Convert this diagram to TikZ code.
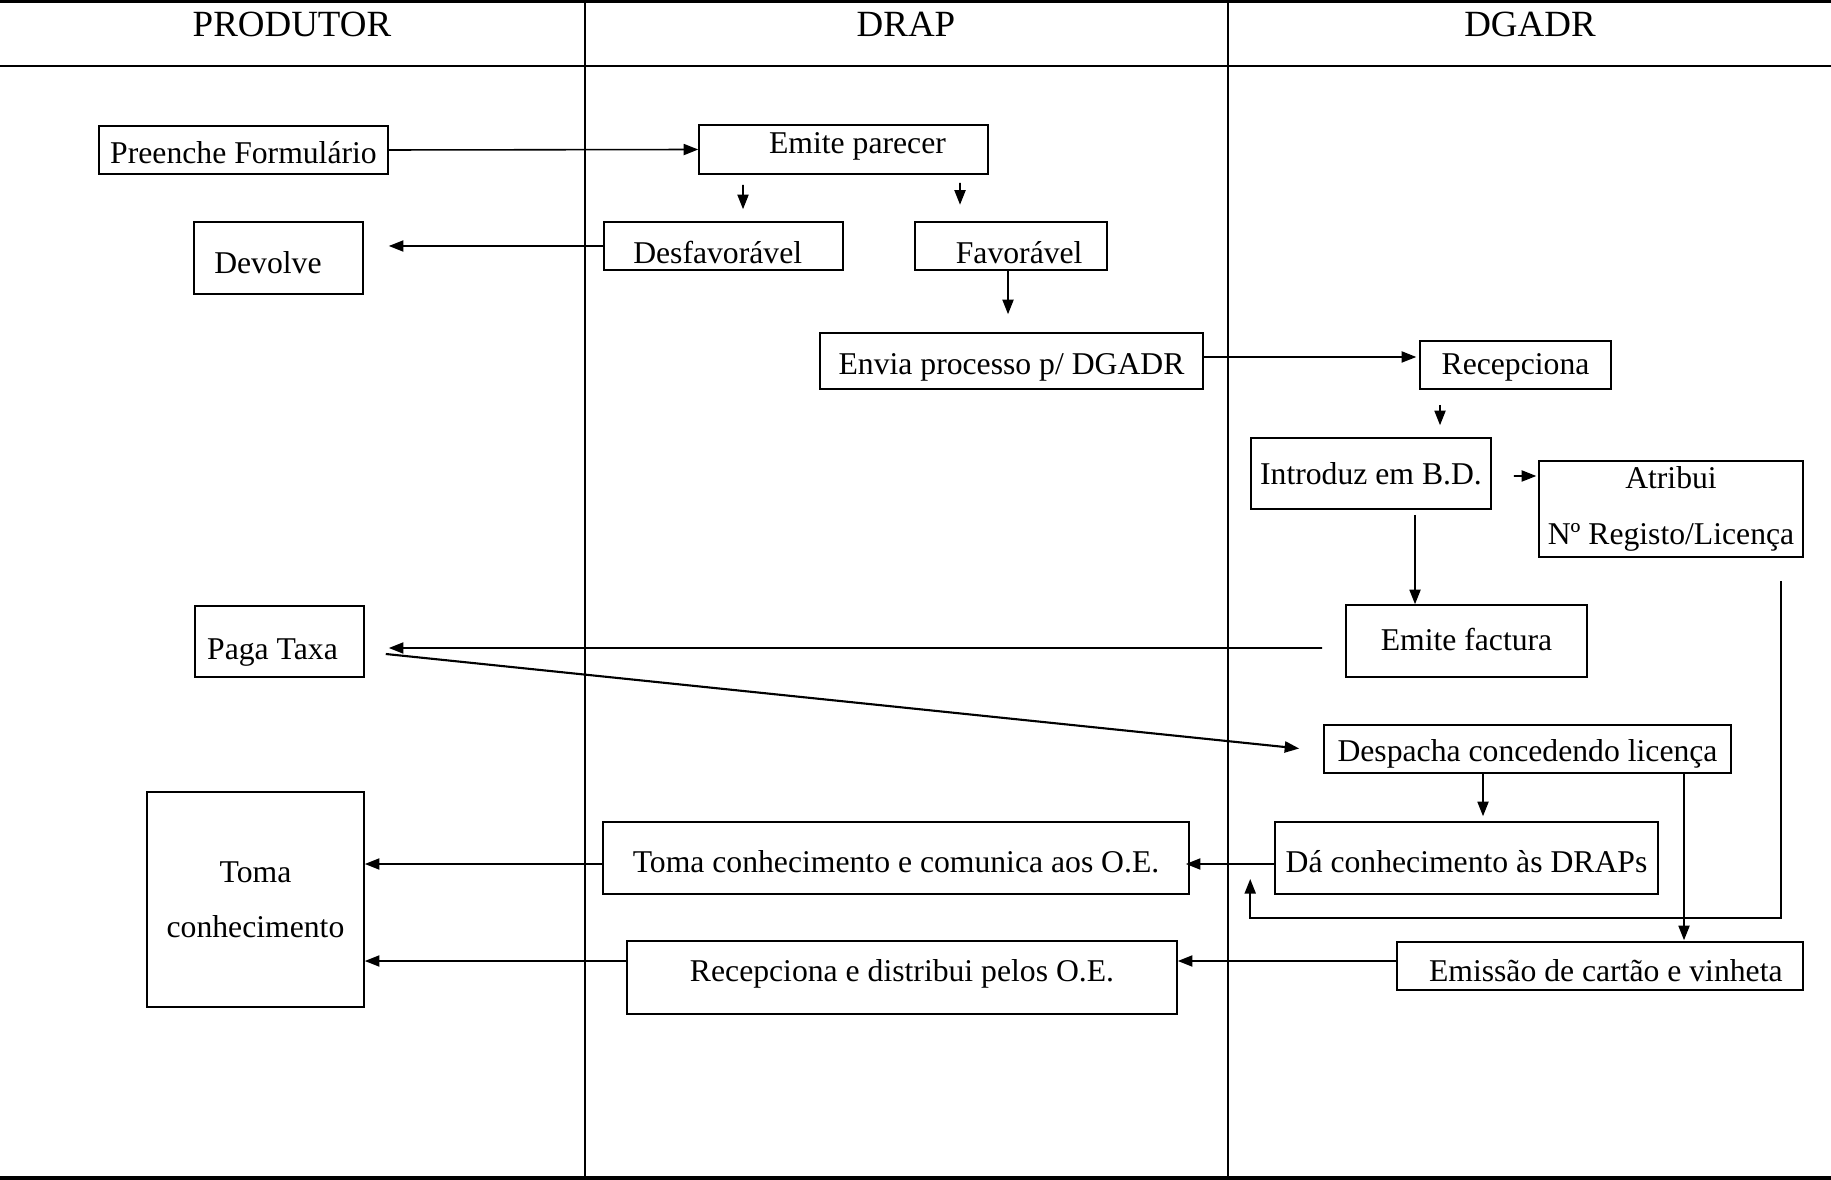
\documentclass[tikz,border=0pt]{standalone}
\usepackage{fontspec}
\setmainfont{Liberation Serif}
\usetikzlibrary{arrows.meta,calc}

\begin{document}
\begin{tikzpicture}[x=0.3788pt, y=-0.3788pt,
        box/.style={draw, line width=0.6pt, inner sep=0pt, align=center, font=\fontsize{12}{21}\selectfont},
        sz/.style 2 args={minimum width=#1*0.3788pt, minimum height=#2*0.3788pt},
        tb/.style={text height=#1*0.3788pt, text depth=0pt},
        head/.style={font=\fontsize{14}{17}\selectfont},
        arr/.style={line width=0.6pt, -{Triangle[length=5.5pt, width=4.2pt]}},
        lane/.style={line width=0.6pt}]
        \useasboundingbox (0,0) rectangle (1831,1180);

        % Lanes
        \draw [line width=1.2pt] (0,1.5) -- (1831,1.5);
        \draw [line width=0.8pt] (0,66) -- (1831,66);
        \draw [line width=1.5pt] (0,1178) -- (1831,1178);
        \draw [lane] (585,0) -- (585,1178);
        \draw [lane] (1228,0) -- (1228,1178);
        \node [head] (hprod) at (292,24) {PRODUTOR};
        \node [head] (hdrap) at (906,24) {DRAP};
        \node [head] (hdgadr) at (1530,24) {DGADR};

        % Boxes
        \node [box, sz={289}{48}, tb=26.6] (pf) at (243.5,150) {Preenche Formulário};
        \node [box, sz={289}{49}, tb=9] (ep) at (843.5,149.5) {\hspace*{10.6pt}Emite parecer};
        \node [box, sz={239}{48}, tb=35.4] (desf) at (723.5,246) {Desfavorável\hspace*{4.4pt}};
        \node [box, sz={192}{48}, tb=35.4] (fav) at (1011,246) {\hspace*{6.2pt}Favorável};
        \node [box, sz={169}{72}, tb=30.2] (dev) at (278.5,258) {Devolve\hspace*{8pt}};
        \node [box, sz={383}{56}, tb=27.4] (env) at (1011.5,361) {Envia processo p/ DGADR};
        \node [box, sz={191}{48}, tb=19.4] (rec) at (1515.5,365) {Recepciona};
        \node [box, sz={240}{71}, tb=22] (intro) at (1371,473.5) {Introduz em B.D.};
        \node [box, sz={264}{96}] (atr) at (1671,509) {Atribui\\Nº Registo/Licença};
        \node [box, sz={169}{71}, tb=36] (pt) at (279.5,641.5) {Paga Taxa\hspace*{5.3pt}};
        \node [box, sz={241}{72}, tb=18.4] (ef) at (1466.5,641) {Emite factura};
        \node [box, sz={407}{48}, tb=24.4] (desp) at (1527.5,749) {Despacha concedendo licença};
        \node [box, sz={217}{215}] (tc) at (255.5,899.5) {Toma\\conhecimento};
        \node [box, sz={586}{72}, tb=28.2] (tcc) at (896,858) {Toma conhecimento e comunica aos O.E.};
        \node [box, sz={383}{72}, tb=28.2] (dac) at (1466.5,858) {Dá conhecimento às DRAPs};
        \node [box, sz={550}{73}, tb=8.8] (red) at (902,977.5) {Recepciona e distribui pelos O.E.};
        \node [box, sz={406}{48}, tb=31.8] (emi) at (1600,966) {\hspace*{4.4pt}Emissão de cartão e vinheta};

        % Arrows
        \draw [arr] (pf.east) -- (ep.west);
        \draw [arr] ($(ep.south)+(-100.5,10)$) -- ($(desf.north)+(19.5,-12)$);
        \draw [arr] ($(ep.south)+(116.5,8)$) -- ($(fav.north)+(-51,-16.5)$);
        \draw [arr] ($(fav.south)+(-3,0)$) -- ($(env.north)+(-3.5,-18)$);
        \draw [arr] (desf.west) -- ($(dev.east |- desf.west)+(25,0)$);
        \draw [arr] ($(env.east)+(0,-4)$) -- ($(rec.west)+(-3,-8)$);
        \draw [arr] ($(rec.south)+(-75.5,15)$) -- ($(intro.north)+(69,-12)$);
        \draw [arr] ($(intro.east)+(22,2.5)$) -- ($(atr.west)+(-2,-33)$);
        \draw [arr] ($(intro.south)+(44,5)$) -- ($(ef.north)+(-51.5,0)$);
        \draw [arr] ($(ef.west)+(-23,7)$) -- ($(pt.east)+(24,6.5)$);
        \draw [arr, line width=0.8pt] ($(pt.east)+(21,12.5)$) -- ($(desp.west)+(-24,-0.5)$);
        \draw [arr] ($(desp.south)+(-44.5,0)$) -- ($(dac.north)+(16.5,-5)$);
        \draw [arr] ($(desp.south)+(156.5,0)$) -- ($(emi.north)+(84,-1)$);
        \draw [arr] ($(atr.south)+(110,23)$) |- ($(dac.west)+(-24,60)$) -- ($(dac.west)+(-24,21)$);
        \draw [arr] ($(dac.west)+(0,6)$) -- ($(tcc.east)+(-4,6)$);
        \draw [arr] ($(tcc.west)+(0,6)$) -- ($(tc.east |- tcc.west)+(0,6)$);
        \draw [arr] ($(emi.west)+(0,-5)$) -- ($(red.east |- emi.west)+(0,-5)$);
        \draw [arr] ($(red.west)+(0,-16.5)$) -- ($(tc.east |- red.west)+(0,-16.5)$);
\end{tikzpicture}
\end{document}
